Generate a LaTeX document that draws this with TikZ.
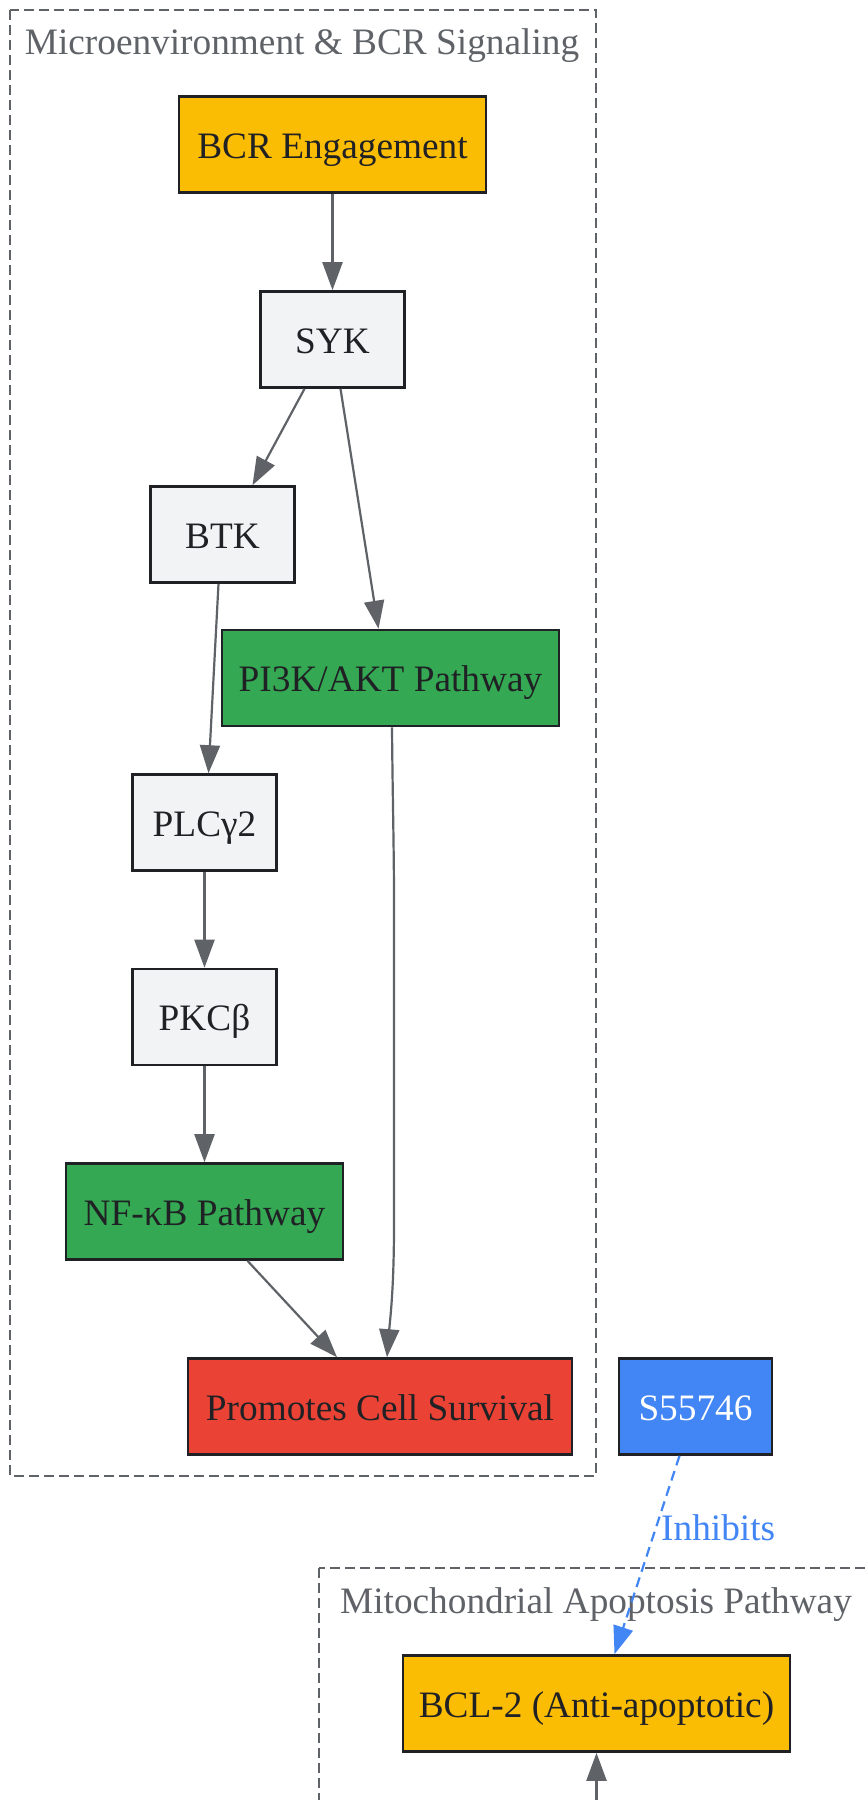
\documentclass[tikz,border=0pt]{standalone}
\usepackage{fontspec}
\setmainfont{Liberation Serif}
\usetikzlibrary{arrows.meta}
\definecolor{gyellow}{HTML}{FBBC04}
\definecolor{ggray}{HTML}{F1F3F4}
\definecolor{ggreen}{HTML}{34A853}
\definecolor{gred}{HTML}{EA4335}
\definecolor{gblue}{HTML}{4285F4}
\definecolor{gdark}{HTML}{202124}
\definecolor{gmid}{HTML}{5F6368}
\tikzset{
  box/.style={draw=gdark, line width=2.6pt, inner sep=0pt, text=gdark,
    font=\fontsize{37.3}{44}\selectfont, minimum height=96pt,
    text height=31pt, text depth=4pt},
  edge/.style={draw=gmid, line width=2.2pt, -{Triangle[length=28pt,width=20pt]}},
  inhib/.style={draw=gblue, line width=2.2pt, dash pattern=on 10pt off 6pt, -{Triangle[length=28pt,width=20pt]}},
  cluster/.style={draw=gmid, line width=2.4pt, dash pattern=on 10pt off 5pt},
  ctitle/.style={text=gmid, font=\fontsize{37.3}{44}\selectfont, inner sep=0pt,
    text height=31pt, text depth=4pt}
}
\begin{document}
\begin{tikzpicture}[x=1pt,y=-1pt]
\useasboundingbox (0,0) rectangle (866,1800);
\clip (0,0) rectangle (866,1800);
\fill[white] (0,0) rectangle (866,1800);
% clusters
\draw[cluster] (10,10) rectangle (596,1476);
\node[ctitle] (t1) at (302,41) {Microenvironment \& BCR Signaling};
\draw[cluster] (319,1568) rectangle (900,1860);
\node[ctitle] (t2) at (596,1600) {Mitochondrial Apoptosis Pathway};
% nodes
\node[box, fill=gyellow, minimum width=307pt] (bcr) at (332.5,144.5) {BCR Engagement};
\node[box, fill=ggray, minimum width=144pt] (syk) at (332.5,339.5) {SYK};
\node[box, fill=ggray, minimum width=144pt] (btk) at (222.5,534.5) {BTK};
\node[box, fill=ggreen, minimum width=337pt] (pi3k) at (390.5,678) {PI3K/AKT Pathway};
\node[box, fill=ggray, minimum width=144pt] (plc) at (204.5,822.5) {PLCγ2};
\node[box, fill=ggray, minimum width=144pt] (pkc) at (204.5,1017) {PKCβ};
\node[box, fill=ggreen, minimum width=277pt] (nfkb) at (204.5,1211.5) {NF-κB Pathway};
\node[box, fill=gred, minimum width=384pt] (surv) at (380,1406.5) {Promotes Cell Survival};
\node[box, fill=gblue, text=white, minimum width=153pt] (s55) at (695.5,1406.5) {S55746};
\node[box, fill=gyellow, minimum width=387pt] (bcl) at (596.5,1703.5) {BCL-2 (Anti-apoptotic)};
\coordinate (below) at (596.5,1800);
% edges
\draw[edge] (bcr) -- (syk);
\draw[edge] ([xshift=-28pt]syk.south) -- ([xshift=30pt]btk.north);
\draw[edge] ([xshift=8pt]syk.south) -- ([xshift=-12pt]pi3k.north);
\draw[edge] ([xshift=-4pt]btk.south) -- ([xshift=4pt]plc.north);
\draw[edge] (plc) -- (pkc);
\draw[edge] (pkc) -- (nfkb);
\draw[edge] ([xshift=43pt]nfkb.south) -- ([xshift=-43pt]surv.north);
\draw[edge] ([xshift=1.5pt]pi3k.south) .. controls (392.5,790) and (394,850) .. (394,900) -- (394,1225) .. controls (394,1290) and (390,1320) .. ([xshift=7pt]surv.north);
\draw[inhib] ([xshift=-16pt]s55.south) -- node[pos=0.36, right=4pt, text=gblue, font=\fontsize{37.3}{44}\selectfont, inner sep=0pt, anchor=west] (inh) {Inhibits} ([xshift=18pt]bcl.north);
\draw[edge] (below) -- (bcl);
\end{tikzpicture}
\end{document}
